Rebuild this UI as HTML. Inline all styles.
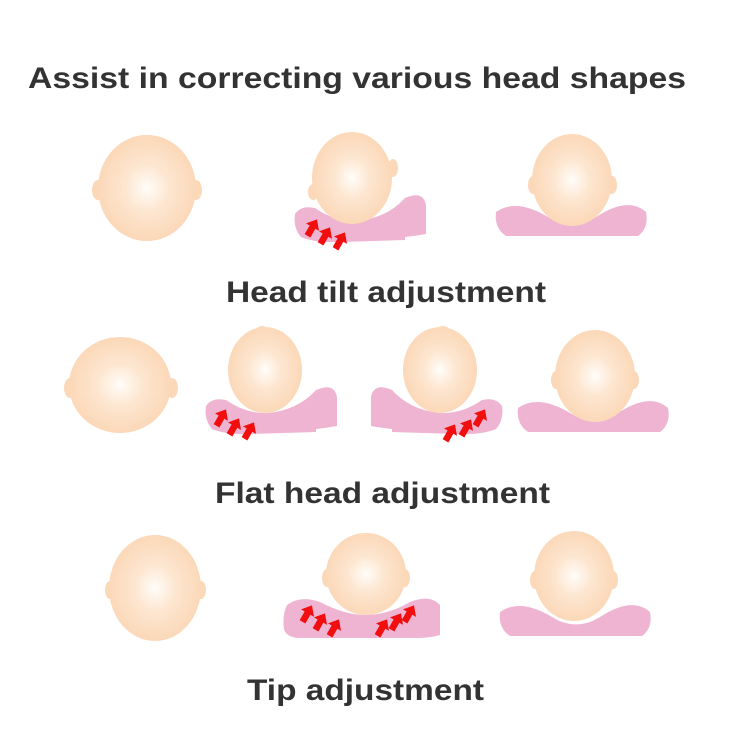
<!DOCTYPE html>
<html><head><style>
html,body{margin:0;padding:0;background:#fff;}
svg{display:block}
text{font-family:"Liberation Sans",Arial,sans-serif;font-weight:bold;fill:#333}
</style></head><body>
<svg width="750" height="750" viewBox="0 0 750 750" xmlns="http://www.w3.org/2000/svg">
<defs>
<radialGradient id="hg" cx="0.5" cy="0.5" r="0.5">
<stop offset="0" stop-color="#fffdf9"/>
<stop offset="0.45" stop-color="#fde6d0"/>
<stop offset="1" stop-color="#fbd8b8"/>
</radialGradient>
<g id="arr"><path d="M0,-10 L7.5,-1 L3.3,-1 L3.3,9 L-3.3,9 L-3.3,-1 L-7.5,-1Z" fill="#f00e0e"/></g>
<path id="pl" d="M0,24 Q6,15 20,18 Q40,32 62,31 Q92,28 110,8 Q128,0 131,15 L131,44 Q120,46 110,47 L110,50 L45,52 Q20,53 6,47 Q-2,38 0,24 Z" fill="#efb4d1"/>
<path id="ps" d="M0,20 Q20,6 52,25 Q76,40 100,25 Q132,4 150,20 Q153,36 142,44 L10,44 Q-2,36 0,20Z" fill="#efb4d1"/>
</defs>

<text x="28" y="88" font-size="30" textLength="658" lengthAdjust="spacingAndGlyphs">Assist in correcting various head shapes</text>

<!-- Row 1 -->
<ellipse cx="98" cy="190" rx="6" ry="10" fill="#fbd8b8"/>
<ellipse cx="196" cy="190" rx="6" ry="10" fill="#fbd8b8"/>
<ellipse cx="147" cy="188" rx="49" ry="53" fill="url(#hg)"/>

<use href="#pl" transform="translate(295,190)"/>
<ellipse cx="393" cy="168" rx="5" ry="9" fill="#fbd8b8"/>
<ellipse cx="313" cy="192" rx="5" ry="8" fill="#fbd8b8"/>
<ellipse cx="352" cy="178" rx="40" ry="46" fill="url(#hg)"/>
<use href="#arr" transform="translate(312,228) rotate(30)"/>
<use href="#arr" transform="translate(325,236) rotate(30)"/>
<use href="#arr" transform="translate(340,241) rotate(30)"/>

<use href="#ps" transform="translate(496,192)"/>
<ellipse cx="533" cy="185" rx="5" ry="9" fill="#fbd8b8"/>
<ellipse cx="612" cy="185" rx="5" ry="9" fill="#fbd8b8"/>
<ellipse cx="572" cy="180" rx="40" ry="46" fill="url(#hg)"/>

<text x="226" y="302" font-size="30" textLength="320" lengthAdjust="spacingAndGlyphs">Head tilt adjustment</text>

<!-- Row 2 -->
<ellipse cx="70" cy="388" rx="6" ry="10" fill="#fbd8b8"/>
<ellipse cx="172" cy="388" rx="6" ry="10" fill="#fbd8b8"/>
<ellipse cx="120" cy="385" rx="51" ry="48" fill="url(#hg)"/>

<use href="#pl" transform="translate(206,382)"/>
<ellipse cx="262" cy="332" rx="7" ry="6" fill="#fbd8b8"/>
<ellipse cx="265" cy="370" rx="37" ry="43" fill="url(#hg)"/>
<use href="#arr" transform="translate(221,418) rotate(30)"/>
<use href="#arr" transform="translate(234,427) rotate(30)"/>
<use href="#arr" transform="translate(249,431) rotate(30)"/>

<use href="#pl" transform="translate(502,382) scale(-1,1)"/>
<ellipse cx="443" cy="332" rx="7" ry="6" fill="#fbd8b8"/>
<ellipse cx="440" cy="370" rx="37" ry="43" fill="url(#hg)"/>
<use href="#arr" transform="translate(450,433) rotate(30)"/>
<use href="#arr" transform="translate(466,428) rotate(30)"/>
<use href="#arr" transform="translate(480,418) rotate(30)"/>

<use href="#ps" transform="translate(518,388)"/>
<ellipse cx="556" cy="380" rx="5" ry="9" fill="#fbd8b8"/>
<ellipse cx="634" cy="380" rx="5" ry="9" fill="#fbd8b8"/>
<ellipse cx="595" cy="376" rx="40" ry="46" fill="url(#hg)"/>

<text x="215" y="503" font-size="30" textLength="335" lengthAdjust="spacingAndGlyphs">Flat head adjustment</text>

<!-- Row 3 -->
<ellipse cx="110" cy="590" rx="5" ry="9" fill="#fbd8b8"/>
<ellipse cx="201" cy="590" rx="5" ry="9" fill="#fbd8b8"/>
<ellipse cx="155" cy="588" rx="46" ry="53" fill="url(#hg)"/>

<path d="M287,605 Q300,595 320,602 Q345,615 365,615 Q388,615 410,602 Q430,594 440,605 L440,635 Q430,638 415,638 L300,638 Q288,638 284,630 Q282,615 287,605Z" fill="#efb4d1"/>
<ellipse cx="327" cy="578" rx="5" ry="9" fill="#fbd8b8"/>
<ellipse cx="405" cy="578" rx="5" ry="9" fill="#fbd8b8"/>
<ellipse cx="366" cy="574" rx="40" ry="41" fill="url(#hg)"/>
<use href="#arr" transform="translate(307,614) rotate(30)"/>
<use href="#arr" transform="translate(320,622) rotate(30)"/>
<use href="#arr" transform="translate(334,628) rotate(30)"/>
<use href="#arr" transform="translate(382,628) rotate(30)"/>
<use href="#arr" transform="translate(396,622) rotate(30)"/>
<use href="#arr" transform="translate(409,614) rotate(30)"/>

<use href="#ps" transform="translate(500,592)"/>
<ellipse cx="535" cy="580" rx="5" ry="9" fill="#fbd8b8"/>
<ellipse cx="613" cy="580" rx="5" ry="9" fill="#fbd8b8"/>
<ellipse cx="574" cy="576" rx="40" ry="45" fill="url(#hg)"/>

<text x="247" y="700" font-size="30" textLength="237" lengthAdjust="spacingAndGlyphs">Tip adjustment</text>
</svg>
</body></html>
